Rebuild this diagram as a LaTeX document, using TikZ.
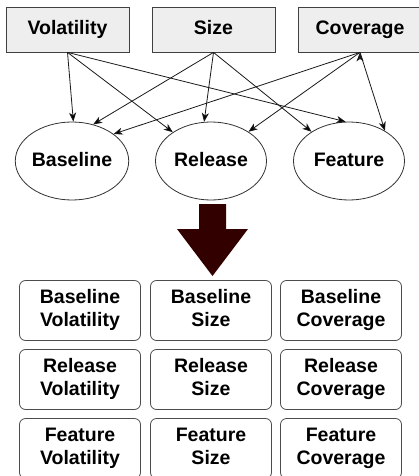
\documentclass[tikz,border=0pt]{standalone}
\usepackage{fontspec}
\setmainfont{Liberation Sans}
\usetikzlibrary{arrows,arrows.meta,positioning,calc,shapes.geometric}
\definecolor{boxgray}{HTML}{EEEEEE}
\definecolor{bigarrow}{HTML}{330000}
\newcommand{\twolines}[2]{\strut #1\\\strut #2}

\begin{document}
\begin{tikzpicture}[>={Stealth[length=9pt,width=7pt,inset=2.5pt]}, x=1pt, y=-1pt, line width=0.8pt]
	\tikzstyle{metric}=[draw=black!75, fill=boxgray, minimum width=123pt, minimum height=45pt, inner sep=0pt, text height=14pt, text depth=4pt, font=\bfseries\fontsize{19.5}{23}\selectfont]
	\tikzstyle{scope}=[ellipse, draw=black!80, fill=white, minimum width=111pt, minimum height=78pt, inner sep=0pt, text height=14pt, text depth=4pt, font=\bfseries\fontsize{19.5}{23}\selectfont]
	\tikzstyle{combo}=[draw=black!70, rounded corners=6pt, minimum width=121pt, minimum height=60pt, inner sep=0pt, align=center, font=\bfseries\fontsize{19.5}{23}\selectfont]
	\tikzstyle{link}=[->, draw=black!90]
	\useasboundingbox (0,0) rectangle (418,476);

	% metrics
	\node[metric]   (vol)   at (67.5,29.5)                        {Volatility};
	\node[metric]   (size)  [right of=vol, node distance=146pt]   {Size};
	\node[metric]   (cov)   [right of=size, node distance=146.5pt] {Coverage};

	% scopes
	\node[scope]    (base)  at (72,161)                           {Baseline};
	\node[scope]    (rel)   [right of=base, node distance=139pt]  {Release};
	\node[scope]    (feat)  [right of=rel, node distance=138pt]   {Feature};

	\path[link] % metric to scope
	(vol.south)  edge (base.88)
	(vol.south)  edge (rel.143)
	(vol.south)  edge (feat.95)
	(size.south) edge (base.60)
	(size.south) edge (rel.100)
	(size.south) edge (feat.142)
	(cov.south)  edge (base.33)
	(cov.south)  edge (rel.38)
	(cov.south)  edge (feat.40);

	% big arrow
	\fill[bigarrow] (199,204) -- (226,204) -- (226,229) -- (248,229)
		-- (212.5,276) -- (177,229) -- (199,229) -- cycle;

	% combinations
	\node[combo]    (bv)  at (80,310.5)                      {\twolines{Baseline}{Volatility}};
	\node[combo]    (bs)  [right of=bv, node distance=131pt] {\twolines{Baseline}{Size}};
	\node[combo]    (bc)  [right of=bs, node distance=130pt] {\twolines{Baseline}{Coverage}};
	\node[combo]    (rv)  [below of=bv, node distance=69pt]  {\twolines{Release}{Volatility}};
	\node[combo]    (rs)  [below of=bs, node distance=69pt]  {\twolines{Release}{Size}};
	\node[combo]    (rc)  [below of=bc, node distance=69pt]  {\twolines{Release}{Coverage}};
	\node[combo]    (fv)  [below of=rv, node distance=69pt]  {\twolines{Feature}{Volatility}};
	\node[combo]    (fs)  [below of=rs, node distance=69pt]  {\twolines{Feature}{Size}};
	\node[combo]    (fc)  [below of=rc, node distance=69pt]  {\twolines{Feature}{Coverage}};
\end{tikzpicture}
\end{document}
